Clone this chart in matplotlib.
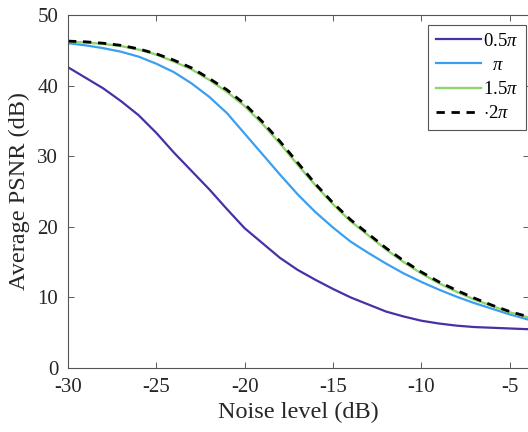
import numpy as np
import matplotlib
matplotlib.use("Agg")
import matplotlib.pyplot as plt

plt.rcParams["font.family"] = ["Liberation Serif", "DejaVu Serif"]
plt.rcParams["mathtext.fontset"] = "custom"
plt.rcParams["mathtext.rm"] = "Liberation Serif"
plt.rcParams["mathtext.it"] = "Liberation Serif:italic"
plt.rcParams["axes.unicode_minus"] = False

# noise level (dB)
noise = np.arange(-30, -3, 1)

# average PSNR (dB) per phase range
psnr_05pi = [42.6, 41.1, 39.6, 37.8, 35.8, 33.3, 30.5, 27.9, 25.3, 22.5, 19.8, 17.7, 15.6, 13.9,
             12.5, 11.2, 10.0, 9.0, 8.0, 7.3, 6.7, 6.3, 6.0, 5.8, 5.7, 5.6, 5.5]
psnr_1pi = [46.0, 45.7, 45.3, 44.8, 44.1, 43.1, 41.9, 40.3, 38.4, 36.1, 33.2, 30.3, 27.4, 24.6,
            22.1, 19.9, 17.9, 16.3, 14.8, 13.4, 12.2, 11.1, 10.1, 9.2, 8.4, 7.6, 6.9]
psnr_15pi = [46.2, 46.1, 45.9, 45.6, 45.1, 44.4, 43.4, 42.3, 40.8, 39.1, 37.1, 34.6, 31.8, 28.8,
             25.9, 23.2, 20.8, 18.8, 16.8, 15.0, 13.4, 12.0, 10.8, 9.7, 8.8, 7.9, 7.2]
psnr_2pi = [46.3, 46.2, 46.0, 45.7, 45.2, 44.5, 43.6, 42.5, 41.0, 39.4, 37.4, 34.9, 32.1, 29.1,
            26.1, 23.4, 21.0, 19.0, 17.0, 15.2, 13.6, 12.2, 11.0, 9.9, 8.9, 8.0, 7.3]

labels = ["0.5$\\pi$", "  $\\pi$", "1.5$\\pi$", "$\\cdot$2$\\pi$"]

W, H = 528, 432
fig = plt.figure(figsize=(W / 100, H / 100), dpi=100)
ax = fig.add_axes([68 / W, (H - 368) / H, (529 - 68) / W, (368 - 15) / H])

ax.plot(noise, psnr_05pi, color="#4a2fa6", lw=1.6, label=labels[0])
ax.plot(noise, psnr_1pi, color="#3a9ff0", lw=1.6, label=labels[1])
ax.plot(noise, psnr_15pi, color="#8fd46a", lw=1.7, label=labels[2])
ax.plot(noise, psnr_2pi, color="black", lw=2.0, ls=(0, (3.0, 2.4)), label=labels[3])

ax.set_xlim(-30, -3.9)
ax.set_ylim(0, 50)
ax.set_xticks([-30, -25, -20, -15, -10, -5])
ax.set_yticks([0, 10, 20, 30, 40, 50])
ax.tick_params(direction="in", top=True, right=True, length=4, width=0.6, pad=7,
               colors="#404040", labelsize=15, labelcolor="#262626")
for s in ax.spines.values():
    s.set_color("#555555")
    s.set_linewidth(0.8)

ax.set_xlabel("Noise level (dB)", fontsize=17.5, color="#262626", labelpad=4)
ax.set_ylabel("Average PSNR (dB)", fontsize=17.5, color="#262626", labelpad=5)

leg = ax.legend(loc="upper left", bbox_to_anchor=(428 / W, 1 - 25 / H),
                bbox_transform=fig.transFigure, fontsize=13.5, frameon=True,
                fancybox=False, framealpha=1, edgecolor="#555555",
                handlelength=2.4, handletextpad=0.15, borderpad=0.4,
                labelspacing=0.38, borderaxespad=0)
leg.get_frame().set_linewidth(0.8)

fig.savefig("out.png", dpi=100)
